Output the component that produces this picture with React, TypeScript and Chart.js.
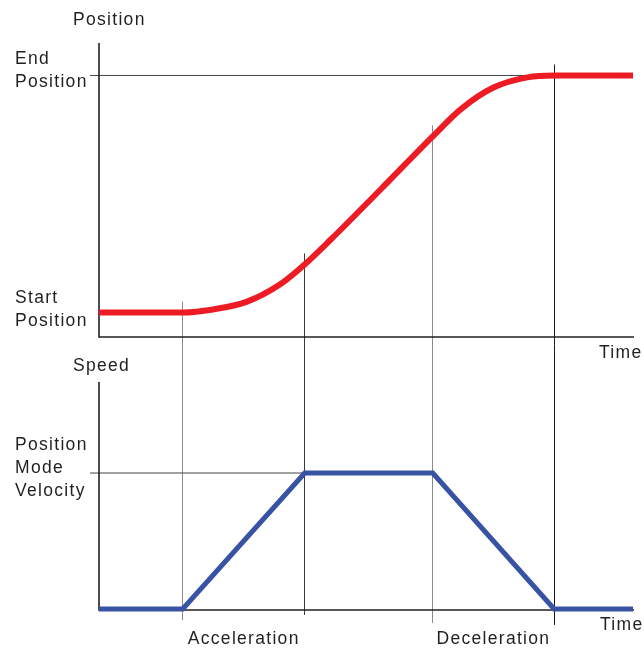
import React, { useEffect, useRef } from "react";
import { Chart, registerables } from "chart.js";

Chart.register(...registerables);

// ---- data ----
// phase boundaries on the time axis: start, accel start, accel end, decel start, decel end, end
const phaseTimes = [0, 0.69, 1.695, 2.75, 3.75, 4.4];
const phaseNames = ["Acceleration", "Deceleration"];
const phaseSpans = [
  [0.69, 1.695],
  [2.75, 3.75],
];

// position profile (0 = start position, 1 = end position)
const positionTimes = [0, 0.69, 0.94, 1.22, 1.49, 1.695, 1.91, 2.32, 2.75, 2.98, 3.25, 3.53, 3.75, 4.4];
const positionValues = [0, 0, 0.013, 0.046, 0.118, 0.203, 0.308, 0.519, 0.743, 0.857, 0.949, 0.992, 1, 1];

// speed profile (0 = stopped, 1 = position mode velocity)
const speedTimes = [0, 0.69, 1.695, 2.75, 3.75, 4.4];
const speedValues = [0, 0, 1, 1, 0, 0];

// tick labels
const positionTickValues = [0, 1];
const positionTickLabels = [
  ["Start", "Position"],
  ["End", "Position"],
];
const speedTickValues = [1];
const speedTickLabels = [["Position", "Mode", "Velocity"]];

const positionTitle = "Position";
const speedTitle = "Speed";
const timeTitle = "Time";

// ---- layout / style ----
const FONT = "17.5px 'Liberation Sans', Arial, Helvetica, sans-serif";
const TEXT_COLOR = "#231F20";
const AXIS_COLOR = "#231F20";
const TOP_PANEL = { top: 43, bottom: 337 };
const BOTTOM_PANEL = { top: 382, bottom: 610 };
const VLINE_BOTTOMS = [620, 615, 623, 625];
const VLINE_COLORS = ["#8a8a8a", "#3a3a3a", "#8a8a8a", "#1a1a1a"];

function posAt(t: number): number {
  const i = positionTimes.indexOf(t);
  return i >= 0 ? positionValues[i] : 0;
}

function text(ctx: CanvasRenderingContext2D, s: string, x: number, y: number, align: CanvasTextAlign = "left") {
  ctx.save();
  ctx.font = FONT;
  (ctx as any).letterSpacing = "1.3px";
  ctx.fillStyle = TEXT_COLOR;
  ctx.textAlign = align;
  ctx.textBaseline = "alphabetic";
  ctx.fillText(s, x, y);
  ctx.restore();
}

function line(ctx: CanvasRenderingContext2D, x1: number, y1: number, x2: number, y2: number, color: string, w: number) {
  ctx.save();
  ctx.strokeStyle = color;
  ctx.lineWidth = w;
  ctx.lineCap = "butt";
  ctx.beginPath();
  ctx.moveTo(x1, y1);
  ctx.lineTo(x2, y2);
  ctx.stroke();
  ctx.restore();
}

const framePlugin = {
  id: "motionFrame",
  beforeDatasetsDraw(chart: any) {
    const ctx: CanvasRenderingContext2D = chart.ctx;
    const area = chart.chartArea;
    const xs = chart.scales.x;
    const yp = chart.scales.yPos;
    const ys = chart.scales.ySpeed;

    // vertical phase lines
    phaseTimes.slice(1, 5).forEach((t, i) => {
      const x = Math.floor(xs.getPixelForValue(t)) + 0.5;
      const top = yp.getPixelForValue(posAt(t)) - 11;
      line(ctx, x, top, x, VLINE_BOTTOMS[i], VLINE_COLORS[i], 1);
    });

    // reference lines
    const yEnd = yp.getPixelForValue(1);
    line(ctx, area.left - 9, yEnd, xs.getPixelForValue(phaseTimes[4]), yEnd, "#444", 1);
    const yVel = ys.getPixelForValue(1);
    line(ctx, area.left - 9, yVel, xs.getPixelForValue(phaseTimes[2]), yVel, "#444", 1);

    // axes
    line(ctx, area.left, TOP_PANEL.top, area.left, TOP_PANEL.bottom + 0.8, AXIS_COLOR, 1.6);
    line(ctx, area.left, TOP_PANEL.bottom, area.right + 1, TOP_PANEL.bottom, AXIS_COLOR, 1.6);
    line(ctx, area.left, BOTTOM_PANEL.top, area.left, BOTTOM_PANEL.bottom + 0.8, AXIS_COLOR, 1.6);
    line(ctx, area.left, BOTTOM_PANEL.bottom, area.right + 1, BOTTOM_PANEL.bottom, AXIS_COLOR, 1.6);
  },
  afterDraw(chart: any) {
    const ctx: CanvasRenderingContext2D = chart.ctx;
    const xs = chart.scales.x;
    const yp = chart.scales.yPos;
    const ys = chart.scales.ySpeed;
    const lh = 22.7;

    positionTickValues.forEach((v, i) => {
      const lines = positionTickLabels[i];
      const y0 = yp.getPixelForValue(v);
      lines.forEach((s, k) => text(ctx, s, 15, y0 + (k - (lines.length - 1) / 2) * lh + (v === 0 ? 2 : 0)));
    });
    speedTickValues.forEach((v, i) => {
      const lines = speedTickLabels[i];
      const y0 = ys.getPixelForValue(v);
      lines.forEach((s, k) => text(ctx, s, 15, y0 + (k - (lines.length - 1) / 2) * lh));
    });

    text(ctx, positionTitle, 73, 25);
    text(ctx, speedTitle, 73, 371);
    text(ctx, timeTitle, 599, 358);
    text(ctx, timeTitle, 600, 630);

    phaseSpans.forEach((span, i) => {
      const cx = (xs.getPixelForValue(span[0]) + xs.getPixelForValue(span[1])) / 2;
      text(ctx, phaseNames[i], cx, 644, "center");
    });
  },
};

export default function App() {
  const ref = useRef<HTMLCanvasElement | null>(null);

  useEffect(() => {
    if (!ref.current) return;
    const chart = new Chart(ref.current, {
      type: "line",
      data: {
        datasets: [
          {
            label: "Position",
            data: positionTimes.map((t, i) => ({ x: t, y: positionValues[i] })),
            yAxisID: "yPos",
            borderColor: "#ED1C24",
            borderWidth: 6,
            pointRadius: 0,
            cubicInterpolationMode: "monotone",
            fill: false,
            clip: false as any,
          },
          {
            label: "Speed",
            data: speedTimes.map((t, i) => ({ x: t, y: speedValues[i] })),
            yAxisID: "ySpeed",
            borderColor: "#3953A4",
            borderWidth: 5,
            pointRadius: 0,
            tension: 0,
            fill: false,
            clip: false as any,
          },
        ],
      },
      options: {
        responsive: false,
        animation: false,
        devicePixelRatio: 1,
        events: [],
        layout: { padding: { left: 99, right: 11, top: 43, bottom: 39 } },
        plugins: { legend: { display: false }, tooltip: { enabled: false } },
        scales: {
          x: { type: "linear", min: 0, max: 4.4, display: false },
          yPos: { type: "linear", min: -1.255, max: 1.137, display: false },
          ySpeed: { type: "linear", min: -0.0074, max: 4.162, display: false },
        },
      },
      plugins: [framePlugin],
    });
    return () => chart.destroy();
  }, []);

  return (
    <div style={{ position: "absolute", left: 0, top: 0, width: 644, height: 649, background: "#fff" }}>
      <canvas ref={ref} width={644} height={649} style={{ display: "block", width: 644, height: 649 }} />
    </div>
  );
}
